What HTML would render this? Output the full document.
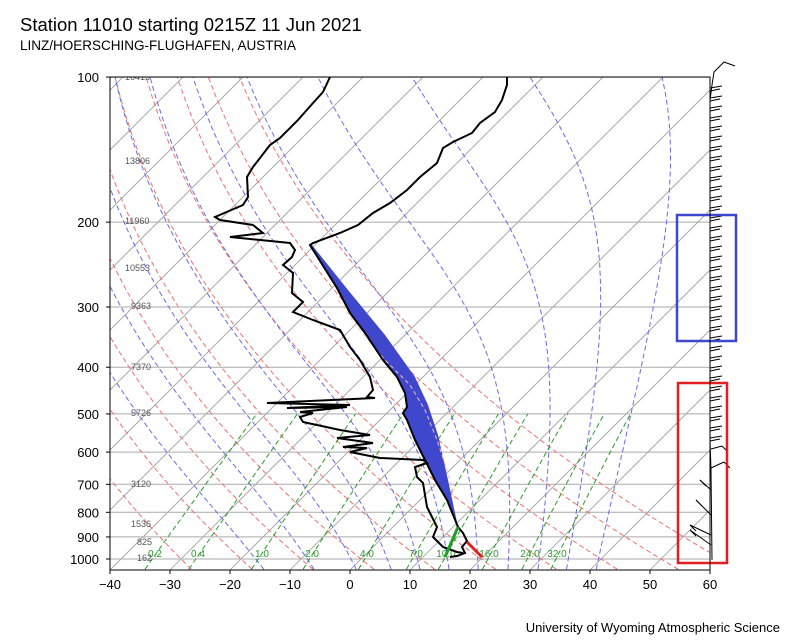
<!DOCTYPE html>
<html><head><meta charset="utf-8"><style>
body{margin:0;background:#fff;width:800px;height:640px;overflow:hidden;font-family:"Liberation Sans",sans-serif}
svg{position:absolute;left:0;top:0}
</style></head><body>
<svg id="s" width="800" height="640" xmlns="http://www.w3.org/2000/svg" font-family="Liberation Sans, sans-serif">
<defs><clipPath id="c"><rect x="110" y="77" width="600" height="493"/></clipPath></defs>
<text x="20" y="31" font-size="18.5">Station 11010 starting 0215Z 11 Jun 2021</text>
<text x="20" y="50" font-size="13.5">LINZ/HOERSCHING-FLUGHAFEN, AUSTRIA</text>
<text x="780" y="632" font-size="13" text-anchor="end">University of Wyoming Atmospheric Science</text>
<g id="grid" clip-path="url(#c)"></g>
<g id="data"></g>
<rect x="110" y="77" width="600" height="493" fill="none" stroke="#000" stroke-width="1"/>
<g id="ax" font-size="13"></g>
</svg>
<script>
var ns="http://www.w3.org/2000/svg";
function Y(p){return 559-209.3*Math.log(1000/p);}
function X(T,p){return 110+6*(T+40)+(570-Y(p));}
function el(par,tag,a,txt){var e=document.createElementNS(ns,tag);for(var k in a)e.setAttribute(k,a[k]);if(txt!==undefined)e.textContent=txt;document.getElementById(par).appendChild(e);return e;}
function pl(par,pts,st){el(par,'polyline',Object.assign({points:pts.map(function(q){return q[0].toFixed(1)+','+q[1].toFixed(1)}).join(' '),fill:'none'},st));}
[100,200,300,400,500,600,700,800,900,1000].forEach(function(p){var y=Y(p);pl('grid',[[110,y],[710,y]],{stroke:'#aaa','stroke-width':1});
el('ax','line',{x1:106,y1:y,x2:110,y2:y,stroke:'#000'});el('ax','text',{x:99,y:y+5,'text-anchor':'end'},p);});
for(var T=-140;T<=60;T+=10){pl('grid',[[X(T,1050),Y(1050)],[X(T,100),Y(100)]],{stroke:'#aaa','stroke-width':1});}
for(var T=-40;T<=60;T+=10){var x=110+6*(T+40);el('ax','line',{x1:x,y1:570,x2:x,y2:574,stroke:'#000'});el('ax','text',{x:x,y:589,'text-anchor':'middle'},T<0?'\u2212'+(-T):T);}
// dry adiabats
for(var th=243.15;th<=334;th+=10){var pts=[];for(var p=1050;p>=100;p-=10){pts.push([X(th*Math.pow(p/1000,0.2857)-273.15,p),Y(p)]);}pl('grid',pts,{stroke:'#f07070','stroke-width':1,'stroke-dasharray':'5,3'});}
// moist adiabats
function es(T){return 6.112*Math.exp(17.67*T/(T+243.5));}
function dTdp(T,p){var Tk=T+273.15,e=es(T),rs=0.622*e/(p-e),L=2.5e6,Rd=287,cp=1005;return (Rd*Tk+L*rs)/(p*(cp+L*L*rs*0.622/(Rd*Tk*Tk)));}
function moist(t0){var T=t0,pts=[[X(T,1000),Y(1000)]];var Tb=t0;for(var p=1000;p<1050;p+=5){Tb+=dTdp(Tb,p)*5;}pts.unshift([X(Tb,1050),Y(1050)]);
 for(var p=1000;p>100;p-=5){T-=dTdp(T,p)*5;pts.push([X(T,p-5),Y(p-5)]);}return pts;}
[10,45,80,115,150,193,247,318,412,530,662].forEach(function(tx){var lo=-80,hi=60;for(var i=0;i<40;i++){var m=(lo+hi)/2;var pts=moist(m);if(pts[pts.length-1][0]<tx)lo=m;else hi=m;}
 pl('grid',moist((lo+hi)/2),{stroke:'#6a6af0','stroke-width':1,'stroke-dasharray':'5,3'});});
var ws=[[0.2,155],[0.4,198],[1.0,262],[2.0,312],[4.0,367],[7.0,416],[10.0,446],[16.0,489],[24.0,530],[32.0,557]];
ws.forEach(function(w){var pts=[];for(var p=1050;p>=500;p-=10){var e=w[0]*p/(622+w[0]),l=Math.log(e/6.112);var Td=243.5*l/(17.67-l);pts.push([X(Td,p),Y(p)]);}
 pl('grid',pts,{stroke:'#2a9a2a','stroke-width':1,'stroke-dasharray':'5,3'});
 el('grid','text',{x:w[1],y:557,'font-size':10,fill:'#2a9a2a','text-anchor':'middle'},w[0].toFixed(1));});
[['16413',77],['13806',161],['11960',221],['10553',268],['9363',306],['7370',367],['5726',413],['3120',484],['1536',524],['825',542],['162',558]].forEach(function(h){el('grid','text',{x:h[0].length>=5?125:(h[0].length==4?131:137),y:h[1]+3,'font-size':9,fill:'#555'},h[0]);});
var Tlow=[[310,245],[337,288],[350,313],[365,333],[383,360],[397,377],[405,393],[407,407],[403,413],[407,420],[415,440],[425,460],[435,480],[447,500],[458,527]];
var par=[[458,527],[448,480],[438,435],[428,405],[415,377],[385,335],[348,290],[312,245]];
el('data','polygon',{points:Tlow.concat(par).map(function(q){return q.join(',')}).join(' '),fill:'#3f48cc'});
pl('data',[[338,300],[360,330],[385,360],[410,385],[425,410],[437,440],[447,470],[455,500]],{stroke:'#f0c0c0','stroke-width':1,'stroke-dasharray':'4,3'});
var Tup=[[507,77],[507,85],[502,100],[495,112],[480,123],[472,133],[453,142],[443,148],[437,163],[420,177],[407,190],[390,203],[373,213],[358,225],[340,233],[313,243],[310,245]];
pl('data',Tup.concat(Tlow.slice(1)).concat([[463,533],[467,541],[462,547],[465,553],[457,556],[450,557]]),{stroke:'#000','stroke-width':2});
var Td=[[330,77],[323,92],[313,103],[298,120],[280,138],[270,145],[253,167],[247,177],[248,197],[243,205],[215,217],[220,220],[253,225],[263,233],[230,237],[290,243],[295,250],[292,257],[283,265],[293,273],[292,293],[303,302],[293,312],[313,320],[340,330],[350,347],[360,360],[370,377],[373,390],[367,397],[375,398],[267,403],[350,405],[287,408],[347,407],[300,412],[313,413],[300,417],[303,422],[340,430],[370,435],[337,438],[373,443],[343,447],[367,448],[350,452],[380,458],[423,460],[427,463],[415,467],[417,477],[423,483],[427,507],[430,513],[437,527],[433,537],[443,547],[457,552],[463,553]];
pl('data',Td,{stroke:'#000','stroke-width':2});
pl('data',[[458,527],[445,557]],{stroke:'#1fa01f','stroke-width':3});
pl('data',[[467,542],[482,557]],{stroke:'#e02020','stroke-width':3});
pl('data',[[735,66],[724,62],[714,72],[712,85],[710,100],[710,440],[711,470],[712,560]],{stroke:'#000','stroke-width':1});
for(var y=88;y<=440;y+=10){el('data','line',{x1:710,y1:y,x2:722,y2:y-2,stroke:'#000'});el('data','line',{x1:710,y1:y+3,x2:720,y2:y+1,stroke:'#000'});}
[[449,722,446],[468,724,462],[490,700,480],[515,696,500],[535,690,525],[545,690,530]].forEach(function(b){el('data','line',{x1:711,y1:b[0],x2:b[1],y2:b[2],stroke:'#000'});el('data','line',{x1:b[1],y1:b[2],x2:b[1]+6,y2:b[2]+6,stroke:'#000'});});
el('data','rect',{x:677,y:215,width:59,height:126,fill:'none',stroke:'#3f48cc','stroke-width':2.5});
el('data','rect',{x:678,y:383,width:49,height:180,fill:'none',stroke:'#e02020','stroke-width':2.5});
</script>
</body></html>
